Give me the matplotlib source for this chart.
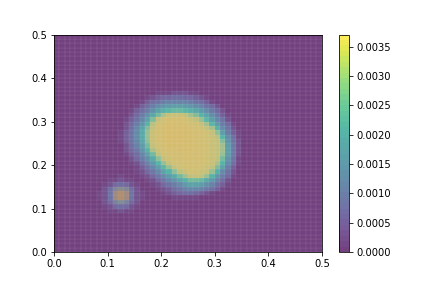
import matplotlib
matplotlib.use('Agg')
import matplotlib.pyplot as plt
from matplotlib.cm import ScalarMappable
from matplotlib.colors import BoundaryNorm, LinearSegmentedColormap
import numpy as np

# big blob, units of 1e-4, top row first (y index 36 down to 12, x index 10 to 36)
big_blob = [
    [0, 0, 0, 0, 0, 0, 0, 0, 0, 1, 1, 1, 2, 2, 2, 1, 1, 0, 0, 0, 0, 0, 0, 0, 0, 0, 0],
    [0, 0, 0, 0, 0, 0, 0, 1, 2, 3, 4, 4, 5, 5, 4, 4, 3, 2, 1, 0, 0, 0, 0, 0, 0, 0, 0],
    [0, 0, 0, 0, 0, 0, 1, 3, 5, 6, 8, 9, 9, 9, 9, 8, 6, 5, 3, 1, 0, 0, 0, 0, 0, 0, 0],
    [0, 0, 0, 0, 0, 1, 3, 5, 8, 11, 13, 14, 15, 15, 14, 13, 11, 9, 6, 4, 2, 0, 0, 0, 0, 0, 0],
    [0, 0, 0, 0, 1, 3, 5, 8, 12, 16, 19, 21, 22, 22, 21, 19, 17, 14, 11, 7, 4, 2, 0, 0, 0, 0, 0],
    [0, 0, 0, 0, 2, 4, 8, 12, 17, 23, 28, 31, 32, 32, 30, 27, 24, 20, 16, 11, 7, 3, 1, 0, 0, 0, 0],
    [0, 0, 0, 1, 3, 6, 10, 16, 24, 31, 34, 35, 35, 35, 34, 32, 30, 26, 21, 15, 10, 6, 2, 0, 0, 0, 0],
    [0, 0, 0, 2, 4, 8, 13, 20, 29, 33, 35, 36, 36, 36, 35, 34, 33, 31, 27, 21, 14, 8, 4, 1, 0, 0, 0],
    [0, 0, 0, 2, 5, 10, 16, 24, 31, 34, 36, 37, 37, 37, 36, 35, 34, 33, 31, 27, 19, 11, 6, 2, 0, 0, 0],
    [0, 0, 1, 3, 6, 11, 18, 26, 32, 35, 36, 37, 37, 37, 37, 36, 35, 34, 33, 31, 25, 15, 8, 3, 1, 0, 0],
    [0, 0, 1, 3, 6, 11, 18, 26, 32, 35, 36, 37, 37, 37, 37, 36, 35, 34, 33, 32, 29, 20, 11, 5, 1, 0, 0],
    [0, 0, 1, 3, 6, 10, 17, 25, 32, 34, 36, 36, 37, 37, 37, 36, 35, 34, 33, 32, 31, 24, 13, 6, 2, 0, 0],
    [0, 0, 0, 2, 5, 9, 15, 23, 31, 33, 35, 36, 36, 36, 36, 36, 35, 34, 33, 32, 31, 27, 15, 7, 2, 0, 0],
    [0, 0, 0, 2, 4, 7, 13, 20, 28, 32, 34, 35, 35, 36, 36, 36, 35, 34, 33, 32, 31, 27, 15, 7, 2, 0, 0],
    [0, 0, 0, 1, 3, 5, 10, 16, 23, 30, 33, 34, 35, 35, 35, 35, 35, 34, 33, 32, 31, 26, 15, 7, 2, 0, 0],
    [0, 0, 0, 0, 2, 4, 8, 12, 18, 25, 31, 33, 34, 34, 35, 35, 35, 34, 33, 32, 30, 23, 13, 6, 1, 0, 0],
    [0, 0, 0, 0, 1, 2, 5, 9, 14, 20, 26, 31, 33, 34, 34, 34, 34, 34, 33, 32, 28, 20, 11, 5, 1, 0, 0],
    [0, 0, 0, 0, 0, 1, 3, 6, 10, 15, 21, 26, 31, 33, 33, 34, 34, 33, 32, 30, 24, 16, 8, 3, 0, 0, 0],
    [0, 0, 0, 0, 0, 1, 2, 4, 7, 11, 16, 20, 25, 30, 32, 33, 33, 32, 31, 26, 19, 11, 6, 2, 0, 0, 0],
    [0, 0, 0, 0, 0, 0, 1, 2, 4, 7, 11, 14, 18, 23, 27, 30, 31, 30, 26, 20, 13, 8, 4, 1, 0, 0, 0],
    [0, 0, 0, 0, 0, 0, 0, 1, 2, 4, 7, 10, 13, 17, 20, 23, 23, 22, 18, 14, 9, 5, 2, 0, 0, 0, 0],
    [0, 0, 0, 0, 0, 0, 0, 0, 1, 2, 4, 6, 8, 11, 14, 16, 16, 15, 12, 9, 5, 3, 1, 0, 0, 0, 0],
    [0, 0, 0, 0, 0, 0, 0, 0, 0, 1, 2, 3, 5, 7, 9, 10, 10, 9, 7, 5, 3, 1, 0, 0, 0, 0, 0],
    [0, 0, 0, 0, 0, 0, 0, 0, 0, 0, 1, 2, 3, 4, 5, 5, 4, 3, 2, 1, 0, 0, 0, 0, 0, 0, 0],
    [0, 0, 0, 0, 0, 0, 0, 0, 0, 0, 0, 0, 1, 1, 1, 1, 1, 0, 0, 0, 0, 0, 0, 0, 0, 0, 0],
]

# small blob, same units, y index 17 down to 9, x index 8 to 16
small_blob = [
    [0, 0, 0, 0, 1, 0, 0, 0, 0],
    [0, 0, 1, 1, 2, 1, 1, 0, 0],
    [0, 1, 2, 4, 5, 4, 2, 1, 0],
    [0, 2, 5, 10, 12, 10, 5, 2, 0],
    [1, 2, 6, 13, 18, 13, 6, 2, 1],
    [1, 2, 6, 13, 18, 13, 6, 2, 1],
    [0, 2, 4, 9, 12, 9, 4, 2, 0],
    [0, 1, 2, 4, 5, 4, 2, 1, 0],
    [0, 0, 1, 1, 2, 1, 1, 0, 0],
]

# orange tint in the middle of the small blob, y index 14 down to 11, x index 11 to 13
spot = [
    [0.3, 0.45, 0.3],
    [0.7, 0.9, 0.7],
    [0.7, 0.9, 0.7],
    [0.2, 0.35, 0.2],
]

edges = np.linspace(0, 0.5, 51)
z = np.zeros((50, 50))
z[12:37, 10:37] += np.array(big_blob)[::-1] * 1e-4
z[9:18, 8:17] += np.array(small_blob)[::-1] * 1e-4
tint = np.zeros((50, 50))
tint[11:15, 11:14] = np.array(spot)[::-1]

vmax = 0.00371
alpha = 0.75
viridis = plt.get_cmap('viridis')

# low end pushed along viridis so the rings read wider, mustard at the flat top
map_cmap = LinearSegmentedColormap.from_list('blob', [
    (0.0, viridis(0.0)),
    (0.1, viridis(0.15)),
    (0.3, viridis(0.33)),
    (0.55, viridis(0.55)),
    (0.68, (0.42, 0.66, 0.45)),
    (0.8, (0.66, 0.67, 0.33)),
    (0.9, (0.76, 0.67, 0.27)),
    (1.0, (0.79, 0.65, 0.24)),
])
tint_cmap = LinearSegmentedColormap.from_list('tint', [(0.88, 0.5, 0.33, 0.0), (0.88, 0.5, 0.33, 0.7)])

fig, ax = plt.subplots(figsize=(6, 4), dpi=72)
fig.subplots_adjust(bottom=0.125)
ax.pcolormesh(edges, edges, z, cmap=map_cmap, vmin=0, vmax=vmax, alpha=alpha,
              edgecolors='white', linewidth=0.08, antialiased=True)
ax.pcolormesh(edges, edges, tint, cmap=tint_cmap, vmin=0, vmax=1, antialiased=False)
ax.set_xlim(0, 0.5)
ax.set_ylim(0, 0.5)

levels = np.linspace(0, vmax, 41)
tick_vals = np.arange(0, 0.0036, 0.0005)
sm = ScalarMappable(norm=BoundaryNorm(levels, 256), cmap=viridis)
cb = fig.colorbar(sm, ax=ax, alpha=alpha, spacing='proportional', ticks=tick_vals)
cb.ax.set_yticklabels(['%.4f' % t for t in tick_vals])
cb.ax.minorticks_off()

fig.savefig('out.png')
